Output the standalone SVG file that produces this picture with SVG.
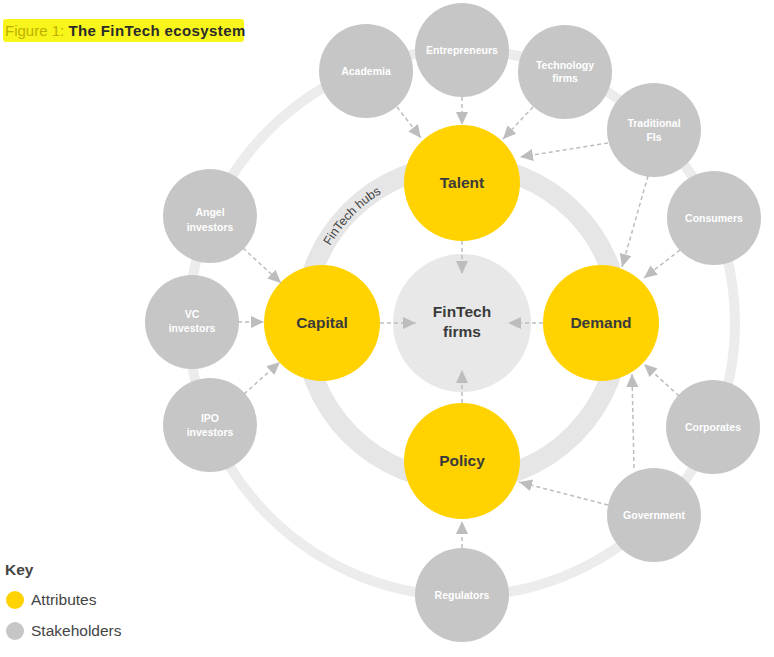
<svg xmlns="http://www.w3.org/2000/svg" width="774" height="657" viewBox="0 0 774 657">
<style>
.st{fill:#c6c6c6}
.at{fill:#ffd200}
.stt{font-family:"Liberation Sans",Arial,sans-serif;font-weight:bold;font-size:10.5px;fill:#ffffff;text-anchor:middle}
.att{font-family:"Liberation Sans",Arial,sans-serif;font-weight:bold;font-size:15.5px;fill:#3a3a3a;text-anchor:middle}
.cn line{stroke:#bdbdbd;stroke-width:1.5;stroke-dasharray:4 3;fill:none;marker-end:url(#ah)}
.key{font-family:"Liberation Sans",Arial,sans-serif;font-size:15.5px;fill:#444}
</style>
<defs>
<marker id="ah" markerUnits="userSpaceOnUse" markerWidth="13" markerHeight="12" refX="13" refY="6" orient="auto">
<path d="M0,0 L13,6 L0,12 z" fill="#bdbdbd"/>
</marker>
<path id="hubpath" d="M 330.3 400.5 A 153 153 0 0 1 462 170"/>
</defs>
<rect width="774" height="657" fill="#ffffff"/>
<g id="title">
<rect x="3" y="19" width="241" height="23" rx="3" fill="#f8f51a"/>
<text x="5" y="36" font-family="Liberation Sans,Arial,sans-serif" font-size="15px"><tspan fill="#bfb000">Figure 1: </tspan><tspan fill="#2b2b2b" font-weight="bold" letter-spacing="0.4">The FinTech ecosystem</tspan></text>
</g>
<g id="rings">
<circle cx="462" cy="323" r="273" fill="none" stroke="#ececec" stroke-width="10"/>
<circle cx="462" cy="323" r="158" fill="none" stroke="#e6e6e6" stroke-width="20"/>
<text font-family="Liberation Sans,Arial,sans-serif" font-size="12.5px" fill="#444" text-anchor="middle"><textPath href="#hubpath" startOffset="62%">FinTech hubs</textPath></text>
</g>
<g id="fintech-firms">
<circle cx="462" cy="323" r="69" fill="#e8e8e8"/>
<text class="att" x="462" y="317" fill="#4a4a4a">FinTech</text>
<text class="att" x="462" y="337" fill="#4a4a4a">firms</text>
</g>
<g id="talent"><circle class="at" cx="462" cy="183" r="58"/><text class="att" x="462" y="188">Talent</text></g>
<g id="capital"><circle class="at" cx="322" cy="323" r="58"/><text class="att" x="322" y="328">Capital</text></g>
<g id="demand"><circle class="at" cx="601" cy="323" r="58"/><text class="att" x="601" y="328">Demand</text></g>
<g id="policy"><circle class="at" cx="462" cy="461" r="58"/><text class="att" x="462" y="466">Policy</text></g>
<g id="academia"><circle class="st" cx="366" cy="71" r="47"/><text class="stt" x="366" y="75">Academia</text></g>
<g id="entrepreneurs"><circle class="st" cx="462" cy="50" r="47"/><text class="stt" x="462" y="54">Entrepreneurs</text></g>
<g id="technology-firms"><circle class="st" cx="565" cy="72" r="47"/><text class="stt" x="565" y="69">Technology</text><text class="stt" x="565" y="82">firms</text></g>
<g id="traditional-fis"><circle class="st" cx="654" cy="130" r="47"/><text class="stt" x="654" y="127">Traditional</text><text class="stt" x="654" y="141">FIs</text></g>
<g id="consumers"><circle class="st" cx="714" cy="218" r="47"/><text class="stt" x="714" y="222">Consumers</text></g>
<g id="corporates"><circle class="st" cx="713" cy="427" r="47"/><text class="stt" x="713" y="431">Corporates</text></g>
<g id="government"><circle class="st" cx="654" cy="515" r="47"/><text class="stt" x="654" y="519">Government</text></g>
<g id="regulators"><circle class="st" cx="462" cy="595" r="47"/><text class="stt" x="462" y="599">Regulators</text></g>
<g id="ipo-investors"><circle class="st" cx="210" cy="425" r="47"/><text class="stt" x="210" y="422">IPO</text><text class="stt" x="210" y="436">investors</text></g>
<g id="vc-investors"><circle class="st" cx="192" cy="322" r="47"/><text class="stt" x="192" y="318">VC</text><text class="stt" x="192" y="332">investors</text></g>
<g id="angel-investors"><circle class="st" cx="210" cy="216" r="47"/><text class="stt" x="210" y="216">Angel</text><text class="stt" x="210" y="231">investors</text></g>
<g id="connectors" class="cn">
<line x1="397" y1="107" x2="421" y2="138"/>
<line x1="462" y1="97" x2="462" y2="125"/>
<line x1="533" y1="107" x2="503" y2="139"/>
<line x1="608" y1="143" x2="520" y2="157"/>
<line x1="648" y1="176" x2="622" y2="267"/>
<line x1="680" y1="250" x2="644" y2="278"/>
<line x1="679" y1="396" x2="644" y2="364"/>
<line x1="634" y1="468" x2="632" y2="374"/>
<line x1="608" y1="505" x2="519" y2="482"/>
<line x1="462" y1="548" x2="462" y2="521"/>
<line x1="243" y1="248" x2="281" y2="283"/>
<line x1="238" y1="322" x2="264" y2="322"/>
<line x1="244" y1="394" x2="280" y2="362"/>
<line x1="380" y1="323" x2="416" y2="323"/>
<line x1="462" y1="241" x2="462" y2="274"/>
<line x1="543" y1="323" x2="508" y2="323"/>
<line x1="462" y1="403" x2="462" y2="370"/>
</g>
<g id="legend">
<text class="key" x="5" y="575" font-weight="bold" fill="#333">Key</text>
<circle cx="15" cy="600" r="9" fill="#ffd200"/>
<text class="key" x="31" y="605">Attributes</text>
<circle cx="15" cy="631" r="9" fill="#c6c6c6"/>
<text class="key" x="31" y="636">Stakeholders</text>
</g>
</svg>
